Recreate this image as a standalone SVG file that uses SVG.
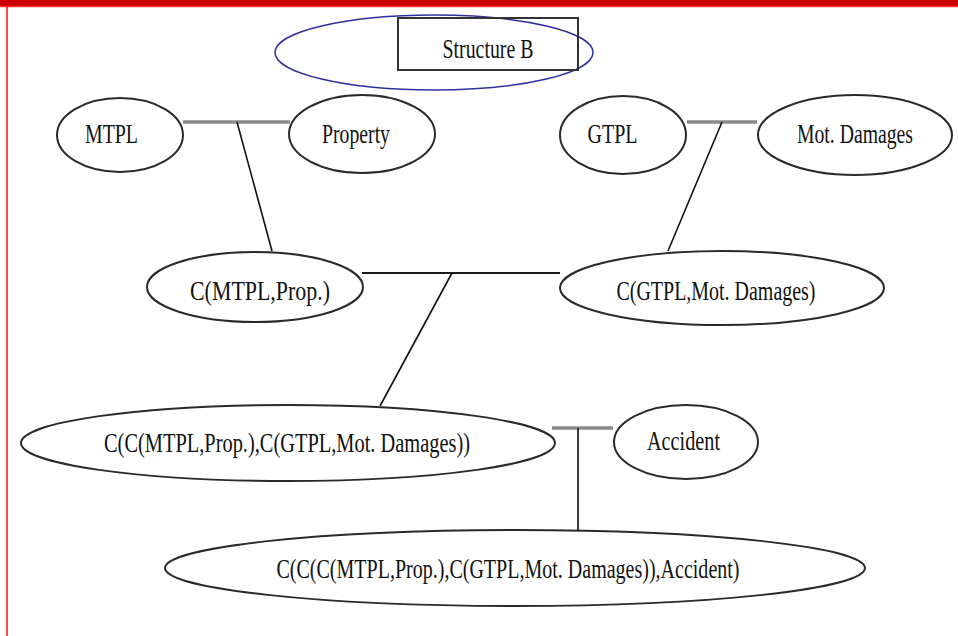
<svg xmlns="http://www.w3.org/2000/svg" width="958" height="636" viewBox="0 0 958 636">
<style>
.n ellipse{fill:none;stroke:#2a2a2a;stroke-width:2}
text{font-family:"Liberation Serif","Times New Roman",serif;font-size:28px;fill:#111;text-anchor:middle}
.g{stroke:#8a8a8a;stroke-width:3.5;fill:none}
.k{stroke:#111;stroke-width:1.6;fill:none}
.b{stroke:#1a1a1a;stroke-width:2.2;fill:none}
</style>
<rect x="0" y="0" width="958" height="636" fill="#fff"/>
<rect x="0" y="0" width="958" height="6" fill="#cc0000"/>
<line x1="0" y1="6.5" x2="958" y2="6.5" stroke="#ff3030" stroke-width="1.5"/>
<line x1="7" y1="6" x2="7" y2="636" stroke="#ee1111" stroke-width="1.5"/>
<g id="connectors">
<line class="g" x1="183" y1="122" x2="290" y2="122"/>
<line class="k" x1="237" y1="122" x2="272" y2="251"/>
<line class="g" x1="687" y1="122" x2="757" y2="122"/>
<line class="k" x1="722" y1="122" x2="668" y2="251"/>
<line class="b" x1="362" y1="273" x2="560" y2="273"/>
<line class="k" x1="452" y1="273" x2="380" y2="406"/>
<line class="g" x1="552" y1="428" x2="613" y2="428"/>
<line class="k" x1="578" y1="428" x2="578" y2="531"/>
</g>
<g id="title">
<ellipse cx="434" cy="52.5" rx="159" ry="37.5" fill="none" stroke="#2f2fa0" stroke-width="1.5"/>
<rect x="398" y="18" width="180" height="52" fill="none" stroke="#333" stroke-width="2"/>
<text x="488" y="58" textLength="91" lengthAdjust="spacingAndGlyphs">Structure B</text>
</g>
<g id="mtpl" class="n"><ellipse cx="120" cy="135" rx="63" ry="37"/><text x="111.5" y="143" textLength="53" lengthAdjust="spacingAndGlyphs">MTPL</text></g>
<g id="property" class="n"><ellipse cx="362" cy="134" rx="73" ry="39"/><text x="356" y="143" textLength="68" lengthAdjust="spacingAndGlyphs">Property</text></g>
<g id="gtpl" class="n"><ellipse cx="623" cy="135" rx="63" ry="39"/><text x="612.5" y="143" textLength="50" lengthAdjust="spacingAndGlyphs">GTPL</text></g>
<g id="motdamages" class="n"><ellipse cx="855" cy="135" rx="97" ry="40"/><text x="855" y="143" textLength="116" lengthAdjust="spacingAndGlyphs">Mot. Damages</text></g>
<g id="c-mtpl-prop" class="n"><ellipse cx="255" cy="287" rx="108" ry="35"/><text x="260" y="300" textLength="140" lengthAdjust="spacingAndGlyphs">C(MTPL,Prop.)</text></g>
<g id="c-gtpl-mot" class="n"><ellipse cx="722" cy="288" rx="162" ry="37"/><text x="716" y="300" textLength="199" lengthAdjust="spacingAndGlyphs">C(GTPL,Mot. Damages)</text></g>
<g id="c-c" class="n"><ellipse cx="288" cy="443" rx="267" ry="38"/><text x="287" y="452" textLength="366" lengthAdjust="spacingAndGlyphs">C(C(MTPL,Prop.),C(GTPL,Mot. Damages))</text></g>
<g id="accident" class="n"><ellipse cx="686" cy="442" rx="72" ry="37"/><text x="683.5" y="450" textLength="73" lengthAdjust="spacingAndGlyphs">Accident</text></g>
<g id="final" class="n"><ellipse cx="515" cy="568" rx="350" ry="38"/><text x="508" y="578" textLength="463" lengthAdjust="spacingAndGlyphs">C(C(C(MTPL,Prop.),C(GTPL,Mot. Damages)),Accident)</text></g>
</svg>
